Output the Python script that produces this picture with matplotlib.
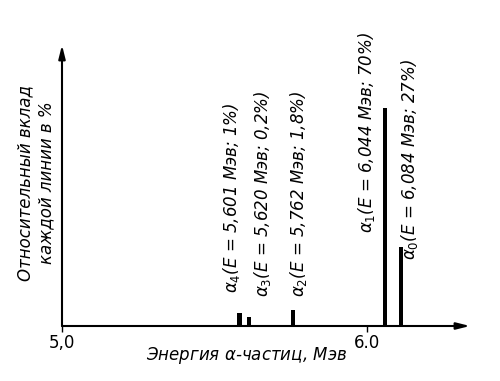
import matplotlib.pyplot as plt

# Данные: альфа-линии
names = ['4', '3', '2', '1', '0']
energies = ['5,601', '5,620', '5,762', '6,044', '6,084']
percents = ['1', '0,2', '1,8', '70', '27']
# положение и высота штрихов, как нарисованы на рисунке
bar_x = [5.583, 5.613, 5.756, 6.059, 6.111]
bar_h = [4.2, 2.9, 5.1, 70, 25.4]
bar_w = [0.016, 0.013, 0.013, 0.014, 0.014]

# где стоят подписи (x, нижний край y)
label_pos = [(5.557, 10.6), (5.656, 9.3), (5.774, 9.3), (6.0, 29.9), (6.141, 21.2)]

plt.rcParams['font.family'] = ['Liberation Sans Narrow', 'DejaVu Sans']
plt.rcParams['mathtext.fontset'] = 'dejavusans'

fig = plt.figure(figsize=(5, 3.81), dpi=100)
ax = fig.add_axes([62 / 500, 55 / 381, 408 / 500, 281 / 381])
ax.set_xlim(5.0, 6.338)
ax.set_ylim(0, 90.2)
for s in ax.spines.values():
    s.set_visible(False)
ax.set_yticks([])
ax.set_xticks([5.0, 6.0])
ax.set_xticklabels(['5,0', '6.0'], fontsize=12)
ax.tick_params(axis='x', length=4, width=1, direction='out', pad=2)

# оси со стрелками
ax.annotate('', xy=(1, 0), xytext=(0, 0), xycoords='axes fraction',
            arrowprops=dict(arrowstyle='-|>,head_length=0.8,head_width=0.2',
                            color='black', lw=1.5, shrinkA=0, shrinkB=0))
ax.annotate('', xy=(0, 1), xytext=(0, 0), xycoords='axes fraction',
            arrowprops=dict(arrowstyle='-|>,head_length=0.8,head_width=0.2',
                            color='black', lw=1.5, shrinkA=0, shrinkB=0))

ax.bar(bar_x, bar_h, width=bar_w, color='black')

for n, e, p, (lx, ly) in zip(names, energies, percents, label_pos):
    txt = r'$\alpha_{%s}$' % n + '(E = ' + e + ' Мэв; ' + p + '%)'
    ax.text(lx, ly, txt, rotation=90, ha='center', va='bottom',
            fontsize=12, style='italic')

fig.text(36 / 500, 1 - 183 / 381, 'Относительный вклад\nкаждой линии в %',
         rotation=90, ha='center', va='center', fontsize=12, style='italic',
         linespacing=1.2)
fig.text(247 / 500, 1 - 356 / 381, r'Энергия $\alpha$-частиц, Мэв',
         ha='center', va='center', fontsize=12, style='italic')

fig.savefig('out.png', dpi=100)
